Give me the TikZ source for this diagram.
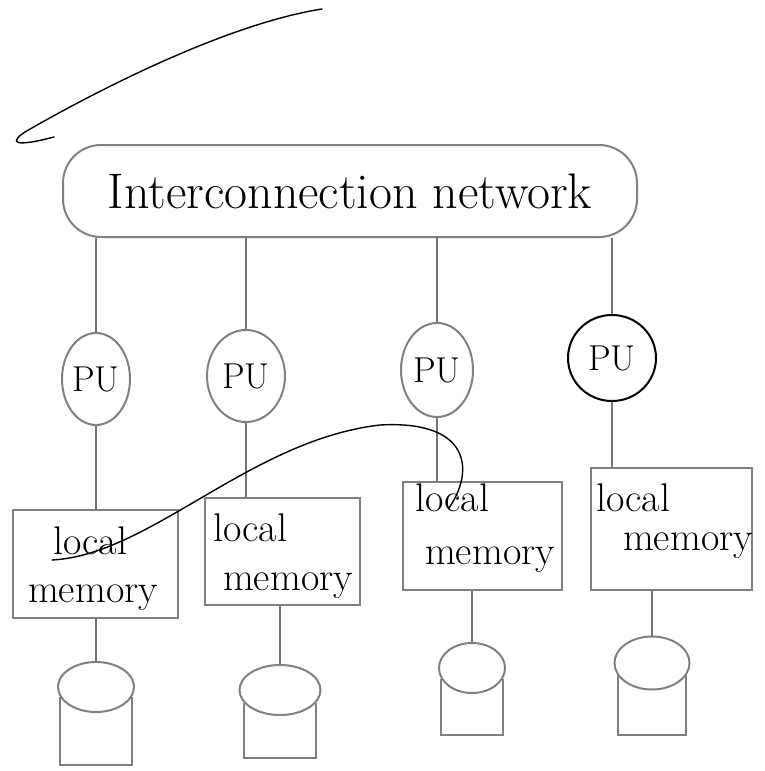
\documentclass[tikz,border=0pt]{standalone}
\usetikzlibrary{shapes.geometric,calc}
\begin{document}
\begin{tikzpicture}[x=1pt,y=-1pt,
  pencil/.style={draw=black!50, line width=2pt},
  inkline/.style={draw=black, line width=1.4pt, line cap=round},
  netbox/.style={pencil, rounded corners=38pt, inner sep=0pt,
    font=\fontsize{50}{54}\selectfont},
  pu/.style={pencil, ellipse, inner sep=0pt, font=\fontsize{36}{40}\selectfont},
  membox/.style={pencil, rectangle, inner sep=0pt},
  memtxt/.style={inner sep=0pt, font=\fontsize{40}{44}\selectfont},
  disk/.style={pencil, ellipse, inner sep=0pt},
  conn/.style={draw=black!55, line width=1.8pt}]
\useasboundingbox (0,0) rectangle (765,771);

% stray stroke at top
\draw[inkline] (322,9) .. controls (220,25) and (80,100) .. (25,132)
  .. controls (10,142) and (12,148) .. (54,137);

% interconnection network
\node[netbox, minimum width=574pt, minimum height=92pt] (net) at (350,191) {Interconnection network};

% processing units
\node[pu, minimum width=68pt, minimum height=92pt] (pu1) at (96,379) {PU};
\node[pu, minimum width=78pt, minimum height=92pt] (pu2) at (246,376) {PU};
\node[pu, minimum width=72pt, minimum height=94pt] (pu3) at (437,370) {PU};
\node[pu, draw=black, minimum width=88pt, minimum height=86pt] (pu4) at (612,358) {PU};

% local memories
\node[membox, minimum width=165pt, minimum height=108pt] (mem1) at (95.5,564) {};
\node[membox, minimum width=155pt, minimum height=107pt] (mem2) at (282.5,551.5) {};
\node[membox, minimum width=159pt, minimum height=108pt] (mem3) at (482.5,536) {};
\node[membox, minimum width=161pt, minimum height=122pt] (mem4) at (671.5,529) {};

\node[memtxt] (l1) at (90,541) {local};
\node[memtxt] (m1) at (93,598) {memory};
\node[memtxt] (l2) at (250,528) {local};
\node[memtxt] (m2) at (288,586) {memory};
\node[memtxt] (l3) at (452,498) {local};
\node[memtxt] (m3) at (490,560) {memory};
\node[memtxt] (l4) at (633,498) {local};
\node[memtxt] (m4) at (688,546) {memory};

% disks
\node[disk, minimum width=76pt, minimum height=50pt] (d1) at (96,687) {};
\node[disk, minimum width=81pt, minimum height=50pt] (d2) at (280,690) {};
\node[disk, minimum width=66pt, minimum height=50pt] (d3) at (472,668) {};
\node[disk, minimum width=75pt, minimum height=53pt] (d4) at (652,663) {};
\draw[pencil] (d1.195) -- ++(0,68) -| (d1.-15);
\draw[pencil] (d2.200) -- ++(0,55) -| (d2.-20);
\draw[pencil] (d3.200) -- ++(0,56) -| (d3.-20);
\draw[pencil] (d4.200) -- ++(0,60) -| (d4.-20);

% connectors network - PU
\draw[conn] (pu1.north) -- (pu1.north |- net.south);
\draw[conn] (pu2.north) -- (pu2.north |- net.south);
\draw[conn] (pu3.north) -- (pu3.north |- net.south);
\draw[conn] (pu4.north) -- (pu4.north |- net.south);

% connectors PU - memory
\draw[conn] (pu1.south) -- (pu1.south |- mem1.north);
\draw[conn] (pu2.south) -- (pu2.south |- mem2.north);
\draw[conn] (pu3.south) -- (pu3.south |- mem3.north);
\draw[conn] (pu4.south) -- (pu4.south |- mem4.north);

% connectors memory - disk
\draw[conn] (d1.north) -- (d1.north |- mem1.south);
\draw[conn] (d2.north) -- (d2.north |- mem2.south);
\draw[conn] (d3.north) -- (d3.north |- mem3.south);
\draw[conn] (d4.north) -- (d4.north |- mem4.south);

% stray S stroke across memories
\draw[inkline] (52,560) .. controls (150,555) and (250,440) .. (380,425)
  .. controls (470,420) and (475,470) .. (449,508);
\end{tikzpicture}
\end{document}
